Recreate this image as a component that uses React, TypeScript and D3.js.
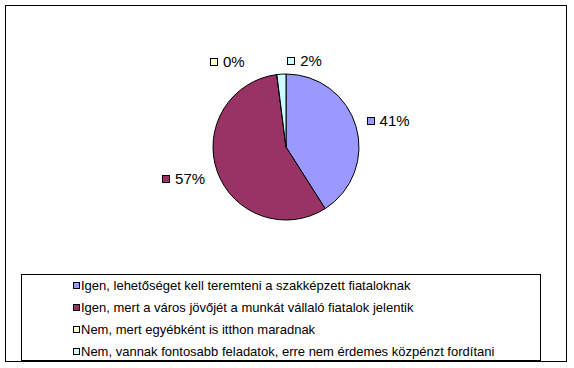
import React from "react";
import * as d3 from "d3";

const categories: string[] = [
  "Igen, lehetőséget kell teremteni a szakképzett fiataloknak",
  "Igen, mert a város jövőjét a munkát vállaló fiatalok jelentik",
  "Nem, mert egyébként is itthon maradnak",
  "Nem, vannak fontosabb feladatok, erre nem érdemes közpénzt fordítani",
];
const values: number[] = [41, 57, 0, 2];
const labels: string[] = ["41%", "57%", "0%", "2%"];
const colors: string[] = ["#9999FF", "#993366", "#FFFFCC", "#CCFFFF"];

// label nudges for overlapping small slices (layout only)
const labelNudge: [number, number][] = [
  [-2, -2],
  [0, 3],
  [-48, 0],
  [24, 0],
];

const W = 574;
const H = 368;
const cx = 286;
const cy = 147;
const R = 73;
const FONT = "'Liberation Sans', Arial, sans-serif";

export default function App() {
  const pie = d3
    .pie<number>()
    .sort(null)
    .value((d) => d);
  const arcs = pie(values);
  const arc = d3.arc<d3.PieArcDatum<number>>().innerRadius(0).outerRadius(R);
  const labelArc = d3
    .arc<d3.PieArcDatum<number>>()
    .innerRadius(R + 13)
    .outerRadius(R + 13);

  const fontSize = 15;
  const charW = (s: string) => {
    let w = 0;
    for (const c of s) w += c === "%" ? fontSize * 0.889 : fontSize * 0.556;
    return w;
  };

  const legendX = 21;
  const legendY = 274;
  const legendW = 519;
  const legendH = 86;
  const rowScale = d3
    .scalePoint<string>()
    .domain(categories)
    .range([legendY + 11.5, legendY + 77.5]);

  return (
    <svg
      width={W}
      height={H}
      style={{ position: "absolute", left: 0, top: 0, background: "#fff" }}
    >
      <rect x={0} y={0} width={W} height={H} fill="#fff" />
      <rect
        x={5.5}
        y={5.5}
        width={561}
        height={356}
        fill="none"
        stroke="#000"
        strokeWidth={1}
      />
      <g transform={`translate(${cx},${cy})`}>
        {arcs.map((a, i) => (
          <path
            key={i}
            d={arc(a) || ""}
            fill={colors[i]}
            stroke="#000"
            strokeWidth={1}
          />
        ))}
      </g>
      {arcs.map((a, i) => {
        const [lx, ly] = labelArc.centroid(a);
        const mid = (a.startAngle + a.endAngle) / 2;
        const s = Math.sin(mid);
        const tw = charW(labels[i]);
        const gw = 8 + 5 + tw;
        let gx: number;
        if (Math.abs(s) < 0.3) gx = cx + lx - gw / 2;
        else if (s > 0) gx = cx + lx;
        else gx = cx + lx - gw;
        gx += labelNudge[i][0];
        const gy = cy + ly + labelNudge[i][1];
        return (
          <g key={i}>
            <rect
              x={Math.round(gx) + 0.5}
              y={Math.round(gy - 4) + 0.5}
              width={7}
              height={7}
              fill={colors[i]}
              stroke="#000"
              strokeWidth={1}
            />
            <text
              x={gx + 13}
              y={gy}
              dy="0.35em"
              fontFamily={FONT}
              fontSize={fontSize}
              fill="#000"
            >
              {labels[i]}
            </text>
          </g>
        );
      })}
      <rect
        x={legendX + 0.5}
        y={legendY + 0.5}
        width={legendW}
        height={legendH}
        fill="#fff"
        stroke="#000"
        strokeWidth={1}
      />
      {categories.map((c, i) => {
        const y = rowScale(c) as number;
        return (
          <g key={i}>
            <rect
              x={73.5}
              y={Math.round(y - 3.5) + 0.5}
              width={6}
              height={6}
              fill={colors[i]}
              stroke="#000"
              strokeWidth={1}
            />
            <text
              x={81}
              y={y}
              dy="0.35em"
              fontFamily={FONT}
              fontSize={13}
              fill="#000"
            >
              {c}
            </text>
          </g>
        );
      })}
    </svg>
  );
}
